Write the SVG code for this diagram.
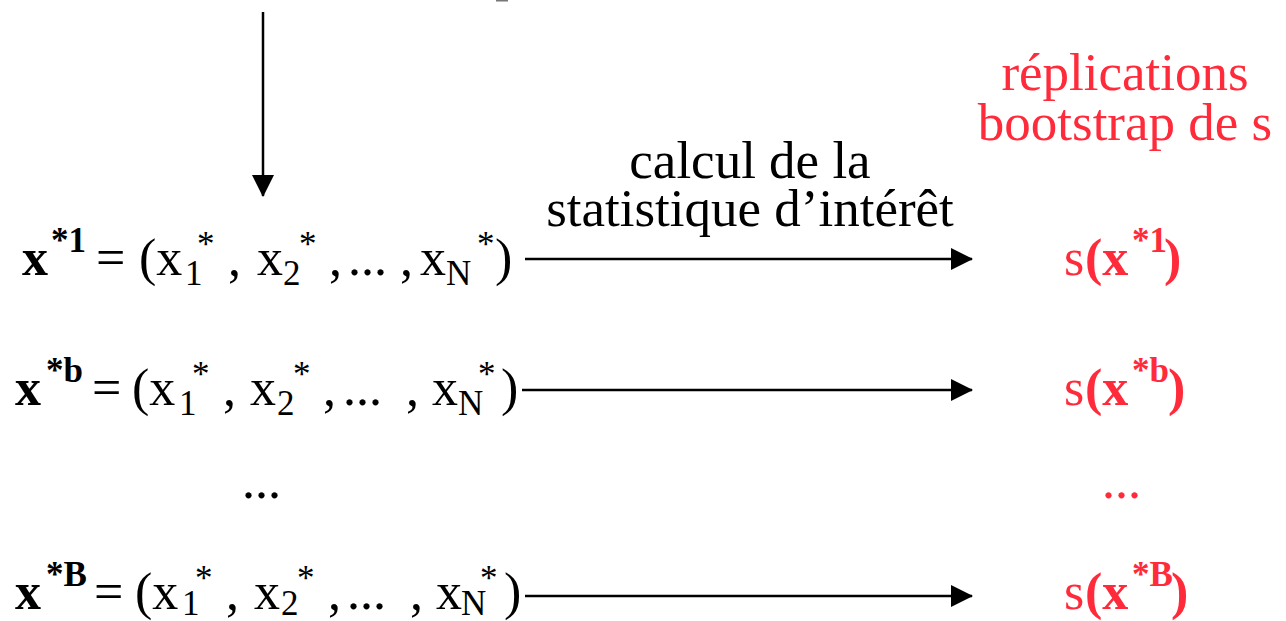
<svg xmlns="http://www.w3.org/2000/svg" width="1286" height="621" viewBox="0 0 1286 621">
<style>
text{font-family:"Liberation Serif","Times New Roman",serif;fill:#000}
.m{font-size:52px}
.b{font-weight:bold}
.sub{font-size:35px}
.red{fill:#ff2a3a}
.lbl{font-size:53px}
.ln{stroke:#000;stroke-width:2.5;fill:none}
</style>
<defs>
<marker id="ah" markerUnits="userSpaceOnUse" markerWidth="22" markerHeight="22" refX="21" refY="11" orient="auto">
<path d="M0,0 L22,11 L0,22 Z" fill="#000"/>
</marker>
</defs>
<rect x="496" y="0" width="12" height="1.5" fill="#777"/>
<g id="connectors">
<line class="ln" x1="263" y1="12" x2="263" y2="196" marker-end="url(#ah)"/>
<line class="ln" x1="525" y1="259" x2="972" y2="259" marker-end="url(#ah)"/>
<line class="ln" x1="522" y1="390" x2="972" y2="390" marker-end="url(#ah)"/>
<line class="ln" x1="525" y1="596" x2="972" y2="596" marker-end="url(#ah)"/>
</g>
<g id="edge-label">
<text class="lbl" x="750" y="178" text-anchor="middle">calcul de la</text>
<text class="lbl" x="750" y="226" text-anchor="middle">statistique d’intérêt</text>
</g>
<g id="header">
<text class="lbl red" x="1125" y="90" text-anchor="middle">réplications</text>
<text class="lbl red" x="1125" y="140" text-anchor="middle">bootstrap de s</text>
</g>
<g id="row1">
<text class="m"><tspan class="b" x="22" y="275">x</tspan><tspan class="b sub" x="51" y="252">*1</tspan><tspan x="96" y="275">=</tspan><tspan x="139" y="275">(x</tspan><tspan class="sub" x="185" y="285">1</tspan><tspan class="sub" x="197" y="256">*</tspan><tspan x="228" y="275">,</tspan><tspan x="257" y="275">x</tspan><tspan class="sub" x="283" y="285">2</tspan><tspan class="sub" x="299" y="256">*</tspan><tspan x="329" y="275">,</tspan><tspan x="348" y="275">...</tspan><tspan x="400" y="275">,</tspan><tspan x="420" y="275">x</tspan><tspan class="sub" x="446" y="285">N</tspan><tspan class="sub" x="477" y="256">*</tspan><tspan x="495" y="275">)</tspan></text>
</g>
<g id="row2">
<text class="m"><tspan class="b" x="15" y="405">x</tspan><tspan class="b sub" x="46" y="382">*b</tspan><tspan x="92" y="405">=</tspan><tspan x="132" y="405">(x</tspan><tspan class="sub" x="179" y="415">1</tspan><tspan class="sub" x="192" y="386">*</tspan><tspan x="223" y="405">,</tspan><tspan x="250" y="405">x</tspan><tspan class="sub" x="277" y="415">2</tspan><tspan class="sub" x="293" y="386">*</tspan><tspan x="323" y="405">,</tspan><tspan x="343" y="405">...</tspan><tspan x="406" y="405">,</tspan><tspan x="432" y="405">x</tspan><tspan class="sub" x="458" y="415">N</tspan><tspan class="sub" x="478" y="386">*</tspan><tspan x="501" y="405">)</tspan></text>
</g>
<g id="ellipsis-left"><text class="m" x="242" y="498">...</text></g>
<g id="row3">
<text class="m"><tspan class="b" x="15" y="609">x</tspan><tspan class="b sub" x="46" y="586">*B</tspan><tspan x="94" y="609">=</tspan><tspan x="135" y="609">(x</tspan><tspan class="sub" x="182" y="615">1</tspan><tspan class="sub" x="195" y="590">*</tspan><tspan x="226" y="609">,</tspan><tspan x="254" y="609">x</tspan><tspan class="sub" x="281" y="615">2</tspan><tspan class="sub" x="297" y="590">*</tspan><tspan x="328" y="609">,</tspan><tspan x="347" y="609">...</tspan><tspan x="410" y="609">,</tspan><tspan x="436" y="609">x</tspan><tspan class="sub" x="461" y="615">N</tspan><tspan class="sub" x="480" y="590">*</tspan><tspan x="504" y="609">)</tspan></text>
</g>
<g id="result1">
<text class="m red"><tspan x="1064" y="275">s</tspan><tspan class="b" x="1085" y="275">(x</tspan><tspan class="b sub" x="1132" y="252">*1</tspan><tspan class="b" x="1164" y="275">)</tspan></text>
</g>
<g id="result2">
<text class="m red"><tspan x="1064" y="405">s</tspan><tspan class="b" x="1085" y="405">(x</tspan><tspan class="b sub" x="1132" y="382">*b</tspan><tspan class="b" x="1168" y="405">)</tspan></text>
</g>
<g id="ellipsis-right"><text class="m red" x="1102" y="498">...</text></g>
<g id="result3">
<text class="m red"><tspan x="1064" y="609">s</tspan><tspan class="b" x="1085" y="609">(x</tspan><tspan class="b sub" x="1132" y="586">*B</tspan><tspan class="b" x="1171" y="609">)</tspan></text>
</g>
</svg>
